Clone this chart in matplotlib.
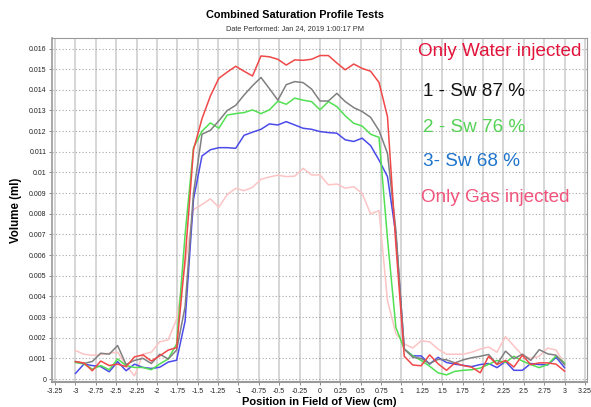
import matplotlib
matplotlib.use("Agg")
import matplotlib.pyplot as plt
import numpy as np

plt.rcParams['font.family'] = ['Liberation Sans', 'DejaVu Sans']

# sample positions (cm)
positions = [-3.000, -2.897, -2.793, -2.690, -2.586, -2.483, -2.379, -2.276, -2.172, -2.069,
             -1.966, -1.862, -1.759, -1.655, -1.552, -1.448, -1.345, -1.241, -1.138, -1.034,
             -0.931, -0.828, -0.724, -0.621, -0.517, -0.414, -0.310, -0.207, -0.103, 0.000,
             0.103, 0.207, 0.310, 0.414, 0.517, 0.621, 0.724, 0.828, 0.931, 1.034,
             1.138, 1.241, 1.345, 1.448, 1.552, 1.655, 1.759, 1.862, 1.966, 2.069,
             2.172, 2.276, 2.379, 2.483, 2.586, 2.690, 2.793, 2.897, 3.000]

# volumes in units of 0.001 ml
water_only = [0.84, 0.78, 0.40, 0.87, 0.65, 0.72, 0.60, 1.07, 1.17, 0.87,
              1.12, 1.40, 1.52, 5.8, 11.1, 12.6, 13.7, 14.56, 14.86, 15.14,
              14.9, 14.67, 15.64, 15.6, 15.48, 15.2, 15.45, 15.43, 15.48, 15.66,
              15.66, 15.3, 14.97, 15.25, 15.04, 14.9, 14.36, 12.7, 6.5, 1.1,
              0.68, 0.64, 1.17, 0.74, 0.42, 0.78, 0.65, 0.57, 0.30, 1.1,
              0.70, 0.90, 0.58, 1.15, 0.70, 0.78, 0.78, 0.72, 0.38]

sw87 = [0.85, 0.75, 0.85, 1.25, 1.2, 1.62, 0.7, 0.9, 1.0, 0.75,
        1.2, 0.97, 1.4, 3.5, 9.0, 11.85, 12.04, 12.5, 13.0, 13.25,
        13.75, 14.2, 14.6, 14.06, 13.5, 14.25, 14.4, 14.35, 14.04, 13.46,
        13.46, 13.83, 13.43, 13.14, 12.95, 12.67, 12.03, 10.93, 7.2, 1.45,
        1.05, 1.0, 0.75, 0.95, 0.93, 0.78, 0.93, 1.03, 1.1, 1.19,
        0.71, 1.35, 0.98, 1.2, 0.9, 1.42, 1.22, 1.15, 0.7]

sw76 = [0.8, 0.73, 0.48, 0.65, 0.45, 0.97, 0.65, 0.56, 0.56, 0.45,
        0.73, 0.97, 1.7, 7.0, 11.2, 12.0, 12.4, 12.14, 12.78, 12.85,
        12.9, 13.03, 12.85, 13.03, 13.45, 13.3, 13.6, 13.5, 13.43, 13.03,
        13.43, 13.19, 12.74, 12.38, 12.25, 11.85, 11.7, 6.8, 2.5, 1.45,
        1.12, 0.9, 0.62, 0.3, 0.2, 0.37, 0.42, 0.45, 0.53, 0.71,
        0.9, 0.8, 1.1, 0.87, 0.7, 0.55, 0.7, 1.12, 0.78]

sw68 = [0.27, 0.72, 0.65, 0.6, 0.35, 0.84, 0.4, 0.72, 0.56, 0.51,
        0.57, 0.82, 0.91, 2.8, 8.7, 10.8, 11.1, 11.2, 11.2, 11.17,
        11.8, 11.95, 12.09, 12.35, 12.3, 12.46, 12.3, 12.14, 12.09, 11.98,
        11.93, 11.9, 11.58, 11.5, 11.66, 11.3, 10.6, 9.8, 7.0, 1.45,
        1.12, 1.12, 0.72, 1.05, 0.8, 0.72, 0.66, 0.6, 0.7, 0.75,
        0.55, 0.85, 0.42, 0.42, 0.75, 0.7, 0.68, 1.05, 0.55]

gas_only = [1.38, 1.2, 1.15, 1.18, 1.25, 1.3, 0.65, 0.15, 1.2, 1.3,
            1.8, 1.9, 2.9, 5.5, 8.2, 8.45, 8.72, 8.32, 8.93, 9.23,
            9.12, 9.28, 9.67, 9.78, 9.87, 9.8, 9.82, 10.2, 9.88, 9.88,
            9.4, 9.44, 9.24, 9.31, 8.99, 7.99, 8.15, 3.8, 2.2, 1.7,
            1.5, 1.85, 1.8, 1.45, 1.2, 1.2, 1.2, 1.3, 1.45, 1.55,
            1.3, 2.05, 1.6, 1.15, 1.0, 1.1, 1.5, 1.4, 0.75]

x_tick_labels = ["-3.25", "-3", "-2.75", "-2.5", "-2.25", "-2", "-1.75", "-1.5", "-1.25", "-1",
                 "-0.75", "-0.5", "-0.25", "0", "0.25", "0.5", "0.75", "1", "1.25", "1.5",
                 "1.75", "2", "2.25", "2.5", "2.75", "3", "3.25"]
y_tick_labels = ["0", "0.001", "0.002", "0.003", "0.004", "0.005", "0.006", "0.007", "0.008",
                 "0.009", "0.01", "0.011", "0.012", "0.013", "0.014", "0.015", "0.016"]

annotations = ["Only Water injected", "1 - Sw 87 %", "2 - Sw 76 %", "3- Sw 68 %", "Only Gas injected"]

x_ticks = [float(s) for s in x_tick_labels]
y_ticks = [float(s) for s in y_tick_labels]
scale = 1e-3

W, H = 591, 407
fig = plt.figure(figsize=(W / 100, H / 100), dpi=100)
ax = fig.add_axes([52 / W, (H - 382) / H, 535 / W, 344 / H])

series = [
    (gas_only, '#fcc4c4', 1),
    (sw68, '#4b4bea', 3),
    (sw76, '#52e052', 4),
    (sw87, '#808080', 5),
    (water_only, '#f04848', 6),
]
for vals, col, z in series:
    ax.plot(positions, np.array(vals) * scale, color=col, lw=1.1, zorder=z)

ax.set_xlim(-3.288, 3.276)
ax.set_ylim(-0.000145, 0.01651)
ax.set_xticks(x_ticks)
ax.set_xticklabels(x_tick_labels)
ax.set_yticks(y_ticks)
ax.set_yticklabels(y_tick_labels)

ax.grid(axis='x', color='#d6d6d6', lw=1.4, ls='-', zorder=0)
ax.grid(axis='y', color='#a8a8a8', lw=0.8, ls=(0, (1, 2)), zorder=0)
ax.set_axisbelow(True)

ax.tick_params(axis='both', labelsize=5.0, length=2, width=0.6, color='#777777',
               pad=2, labelcolor='#222222')

for side, sp in ax.spines.items():
    sp.set_color('#9a9a9a')
    sp.set_linewidth(0.8)
ax.spines['bottom'].set_linewidth(1.5)
ax.spines['left'].set_linewidth(1.2)

ax.set_xlabel("Position in Field of View (cm)", fontsize=8, fontweight='bold', labelpad=1.5)
ax.set_ylabel("Volume (ml)", fontsize=8.3, fontweight='bold', labelpad=5)

fig.text(0.5, 1 - 15 / H, "Combined Saturation Profile Tests", ha='center', va='center',
         fontsize=7.8, fontweight='bold')
fig.text(0.5, 1 - 28.5 / H, "Date Performed: Jan 24, 2019 1:00:17 PM", ha='center', va='center',
         fontsize=5.3, color='#333333')

ann_pos = [(418, 51), (423, 91), (423, 127), (423, 161), (421, 197)]
ann_col = ['#e3143c', '#111111', '#55d255', '#1f74cc', '#f2547c']
for txt, (px, py), col in zip(annotations, ann_pos, ann_col):
    fig.text(px / W, 1 - py / H, txt, ha='left', va='center', fontsize=13.6, color=col)

fig.savefig("out.png", dpi=100)
